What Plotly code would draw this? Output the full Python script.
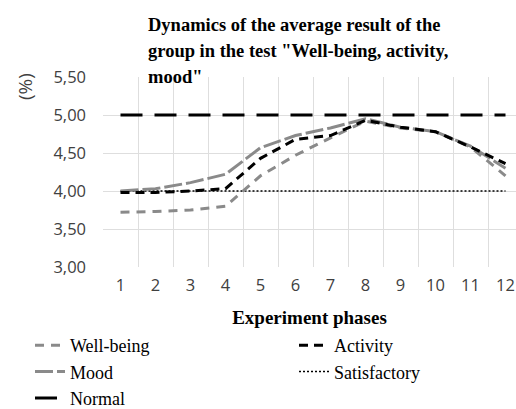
import plotly.graph_objects as go

phases = list(range(1, 13))
well_being = [3.72, 3.73, 3.75, 3.80, 4.20, 4.47, 4.70, 4.92, 4.83, 4.78, 4.58, 4.20]
mood = [4.00, 4.03, 4.11, 4.22, 4.57, 4.73, 4.83, 4.95, 4.84, 4.78, 4.59, 4.30]
activity = [3.98, 3.98, 4.00, 4.03, 4.43, 4.68, 4.73, 4.93, 4.84, 4.78, 4.58, 4.36]
normal = [5.00] * 12
satisfactory = [4.00] * 12
y_ticks = [3.0, 3.5, 4.0, 4.5, 5.0, 5.5]
title_lines = ["Dynamics of the average result of the",
               "group in the test \"Well-being, activity,",
               "mood\""]

GRAY = "#8a8a8a"
serif = "Liberation Serif"
sans = "Open Sans"
W, H = 516, 409
L, R, T, B = 103, 0, 77, 142

fig = go.Figure()
fig.add_trace(go.Scatter(x=phases, y=satisfactory, name="Satisfactory", mode="lines", legend="legend2",
                         line=dict(color="black", width=1.5, dash="2px,2px"), legendrank=2))
fig.add_trace(go.Scatter(x=phases, y=normal, name="Normal", mode="lines",
                         line=dict(color="black", width=3, dash="22px,12px"), legendrank=3))
fig.add_trace(go.Scatter(x=phases, y=well_being, name="Well-being", mode="lines",
                         line=dict(color=GRAY, width=3, dash="9px,7px"), legendrank=1))
fig.add_trace(go.Scatter(x=phases, y=mood, name="Mood", mode="lines",
                         line=dict(color=GRAY, width=3, dash="18px,4px"), legendrank=2))
fig.add_trace(go.Scatter(x=phases, y=activity, name="Activity", mode="lines", legend="legend2",
                         line=dict(color="black", width=3, dash="9px,6px"), legendrank=1))

leg_common = dict(orientation="v", xref="container", yref="container", xanchor="left", yanchor="top",
                  font=dict(family=serif, size=18, color="black"), bgcolor="rgba(0,0,0,0)",
                  traceorder="normal", itemwidth=30)

annotations = []
for i, (line, yc) in enumerate(zip(title_lines, [25, 51, 77])):
    annotations.append(dict(text="<b>" + line + "</b>", xref="paper", yref="paper",
                            x=(146 - L) / (W - L - R), y=1 + (T - yc) / (H - T - B),
                            xanchor="left", yanchor="middle", align="left", showarrow=False,
                            font=dict(family=serif, size=18.5, color="black")))
annotations.append(dict(text="(%)", xref="paper", yref="paper", x=(25 - L) / (W - L - R),
                        y=1 + (T - 87) / (H - T - B), xanchor="center", yanchor="middle",
                        textangle=-90, showarrow=False,
                        font=dict(family=sans, size=19, color="#404040")))

fig.update_layout(
    width=W, height=H,
    margin=dict(l=L, r=R, t=T, b=B, autoexpand=False),
    paper_bgcolor="white", plot_bgcolor="white",
    separators=",.",
    showlegend=True,
    legend=dict(x=30 / W, y=1 - 327 / H, **leg_common),
    legend2=dict(x=294 / W, y=1 - 327 / H, **leg_common),
    xaxis=dict(range=[0.5, 12.3], tickvals=phases, ticktext=[str(p) for p in phases],
               showgrid=False, zeroline=False, showline=False, ticks="", automargin=False,
               tickfont=dict(family=sans, size=16.5, color="#404040"), ticklabelstandoff=6,
               ticklabeloverflow="allow",
               minor=dict(tickvals=[p + 0.5 for p in range(0, 13)], showgrid=True,
                          gridcolor="#dedede", gridwidth=1, ticks=""),
               title=dict(text="<b>Experiment phases</b>", font=dict(family=serif, size=19, color="black"),
                          standoff=16)),
    yaxis=dict(range=[3.0, 5.5], tickvals=y_ticks, tickformat=".2f", automargin=False,
               showgrid=True, gridcolor="#dedede", zeroline=False, showline=False, ticks="",
               tickfont=dict(family=sans, size=16.5, color="#404040"), ticklabelstandoff=16),
    annotations=annotations,
)

fig.write_html("out.html", config={"displayModeBar": False},
               post_script="document.body.style.margin='0';")
